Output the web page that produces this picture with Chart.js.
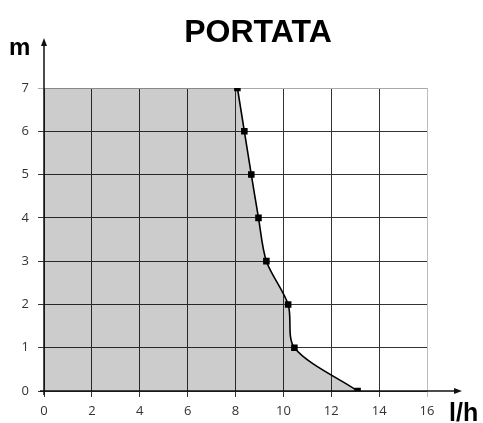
<!DOCTYPE html>
<html>
<head>
<meta charset="utf-8">
<script src="https://cdn.jsdelivr.net/npm/chart.js@4.4.1/dist/chart.umd.min.js"></script>
<style>
  html, body { margin: 0; padding: 0; background: #fff; }
  #wrap { width: 483px; height: 423px; }
</style>
</head>
<body>
<div id="wrap"><canvas id="c" width="483" height="423"></canvas></div>
<script>
// Flow rate (l/h) delivered at each head (m)
const flowRate = [8.08, 8.37, 8.66, 8.96, 9.29, 10.2, 10.46, 13.1];
const head     = [7, 6, 5, 4, 3, 2, 1, 0];
const xTicks   = [0, 2, 4, 6, 8, 10, 12, 14, 16];
const yTicks   = [0, 1, 2, 3, 4, 5, 6, 7];
const chartTitle = 'PORTATA';
const xUnit = 'l/h';
const yUnit = 'm';

const SMOOTH = 0.3;
const curve = flowRate.map((x, i) => ({ x: x, y: head[i] }));
// operating region: top-left corner, then the curve (first point repeated so the
// spline keeps a sharp corner there and follows the drawn line exactly)
const region = [{ x: xTicks[0], y: head[0] }, curve[0]].concat(curve);

const axesPlugin = {
  id: 'axesPlugin',
  afterDraw(chart) {
    const ctx = chart.ctx;
    const a = chart.chartArea;
    ctx.save();
    ctx.strokeStyle = '#111';
    ctx.fillStyle = '#111';
    ctx.lineWidth = 1.5;
    // vertical axis with arrow
    ctx.beginPath();
    ctx.moveTo(a.left, a.bottom + 4);
    ctx.lineTo(a.left, a.top - 46);
    ctx.stroke();
    ctx.beginPath();
    ctx.moveTo(a.left, a.top - 50);
    ctx.lineTo(a.left - 3, a.top - 42);
    ctx.lineTo(a.left + 3, a.top - 42);
    ctx.closePath();
    ctx.fill();
    // horizontal axis with arrow
    ctx.beginPath();
    ctx.moveTo(a.left - 4, a.bottom);
    ctx.lineTo(a.right + 31, a.bottom);
    ctx.stroke();
    ctx.beginPath();
    ctx.moveTo(a.right + 35, a.bottom);
    ctx.lineTo(a.right + 27, a.bottom - 3);
    ctx.lineTo(a.right + 27, a.bottom + 3);
    ctx.closePath();
    ctx.fill();
    // unit labels
    ctx.fillStyle = '#000';
    ctx.textBaseline = 'alphabetic';
    ctx.textAlign = 'left';
    ctx.font = 'bold 24px "Liberation Sans", Arial, sans-serif';
    ctx.fillText(yUnit, 9, 55);
    ctx.font = 'bold 25px "Liberation Sans", Arial, sans-serif';
    ctx.fillText(xUnit, 449, 421);
    // title
    ctx.textAlign = 'center';
    ctx.font = 'bold 32px "Liberation Sans", Arial, sans-serif';
    ctx.fillText(chartTitle, 258, 42);
    ctx.restore();
  }
};

new Chart(document.getElementById('c'), {
  type: 'scatter',
  data: {
    datasets: [
      {
        data: curve,
        showLine: true,
        borderColor: '#000',
        borderWidth: 1.6,
        tension: SMOOTH,
        pointStyle: 'rect',
        pointRadius: 3.5,
        pointBackgroundColor: '#000',
        pointBorderColor: '#000',
        fill: false,
        order: 0
      },
      {
        data: region,
        showLine: true,
        borderWidth: 0,
        borderColor: 'rgba(0,0,0,0)',
        backgroundColor: 'rgba(0,0,0,0.2)',
        pointRadius: 0,
        tension: SMOOTH,
        fill: 'origin',
        order: 1
      }
    ]
  },
  plugins: [axesPlugin],
  options: {
    responsive: false,
    animation: false,
    events: [],
    layout: { padding: { left: 0, right: 56, top: 88, bottom: 0 } },
    plugins: {
      legend: { display: false },
      title: { display: false },
      tooltip: { enabled: false }
    },
    scales: {
      x: {
        type: 'linear',
        min: xTicks[0],
        max: xTicks[xTicks.length - 1],
        afterFit(scale) { scale.height = 32; },
        afterBuildTicks(scale) { scale.ticks = xTicks.map(v => ({ value: v })); },
        border: { display: false },
        grid: {
          color: ctx => ctx.tick && ctx.tick.value === 16 ? '#bdbdbd' : '#333',
          lineWidth: 1,
          tickLength: 6,
          drawOnChartArea: true
        },
        ticks: {
          padding: 6,
          color: '#333',
          font: { family: '"Open Sans", sans-serif', size: 13 }
        }
      },
      y: {
        type: 'linear',
        min: yTicks[0],
        max: yTicks[yTicks.length - 1],
        afterFit(scale) { scale.width = 44; },
        afterBuildTicks(scale) { scale.ticks = yTicks.map(v => ({ value: v })); },
        border: { display: false },
        grid: {
          color: ctx => ctx.tick && ctx.tick.value === 7 ? '#aaaaaa' : '#333',
          lineWidth: 1,
          tickLength: 6
        },
        ticks: {
          padding: 9,
          color: '#333',
          font: { family: '"Open Sans", sans-serif', size: 13 }
        }
      }
    }
  }
});
</script>
</body>
</html>
